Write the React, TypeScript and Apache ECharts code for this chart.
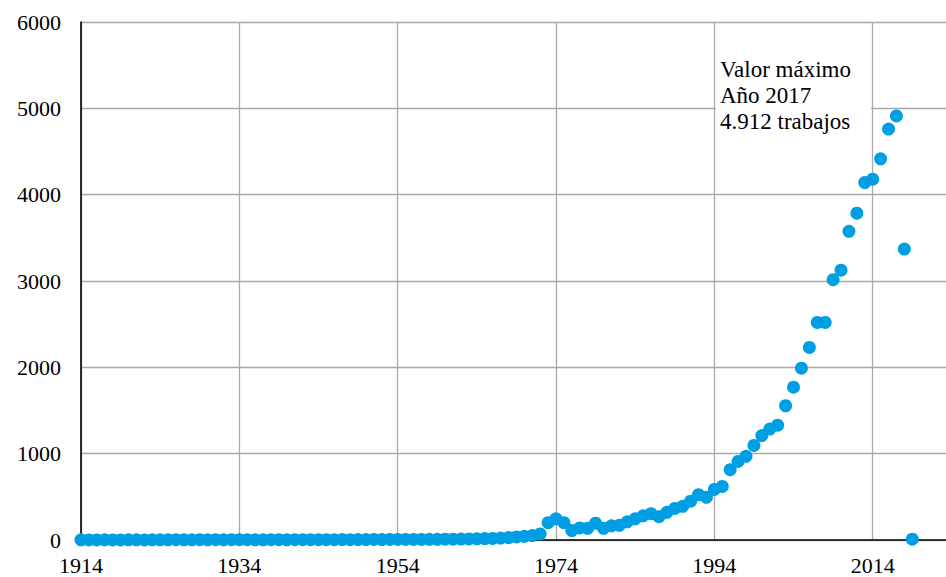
import React, { useEffect, useRef } from "react";
import * as echarts from "echarts";

const firstYear = 1914;
const values: number[] = [
  2, 1, 1, 2, 1, 1, 2, 2, 1, 2,
  2, 2, 3, 2, 2, 3, 2, 3, 2, 3,
  3, 3, 2, 2, 3, 3, 2, 3, 3, 4,
  3, 4, 4, 5, 4, 5, 5, 6, 5, 6,
  6, 7, 6, 7, 8, 8, 9, 10, 11, 12,
  14, 16, 18, 22, 28, 35, 42, 52, 70,
  200, 245, 200, 110, 140, 135, 195, 135, 165, 170,
  210, 245, 280, 305, 270, 320, 365, 390, 450, 525,
  495, 585, 620, 815, 910, 970, 1095, 1210, 1285, 1330,
  1555, 1770, 1990, 2230, 2520, 2520, 3015, 3125, 3575, 3785,
  4140, 4180, 4415, 4760, 4912, 3370, 10,
];
const years: number[] = values.map((_, i) => firstYear + i);
const annotationLines = ["Valor máximo", "Año 2017", "4.912 trabajos"];

const FONT = "Liberation Serif";

export default function App() {
  const ref = useRef<HTMLDivElement>(null);
  useEffect(() => {
    if (!ref.current) return;
    const chart = echarts.init(ref.current, undefined, { renderer: "svg" });
    chart.setOption({
      animation: false,
      backgroundColor: "#ffffff",
      textStyle: { fontFamily: FONT },
      grid: {
        left: 81,
        top: 22,
        width: 868,
        bottom: 37,
        containLabel: false,
        outerBoundsMode: "none",
      },
      xAxis: {
        type: "value",
        min: 1914,
        max: 2023.64,
        interval: 20,
        axisLine: { show: true, onZero: false, lineStyle: { color: "#000", width: 1.6 } },
        axisTick: { show: false },
        axisLabel: {
          color: "#000",
          fontSize: 22,
          fontFamily: FONT,
          margin: 14,
          showMaxLabel: false,
          formatter: (v: number) =>
            Math.abs(v - Math.round(v)) < 1e-6 && (Math.round(v) - 1914) % 20 === 0
              ? String(Math.round(v))
              : "",
        },
        splitLine: { show: true, lineStyle: { color: "#a9a9a9", width: 1.3 } },
      },
      yAxis: {
        type: "value",
        min: 0,
        max: 6000,
        interval: 1000,
        axisLine: { show: true, lineStyle: { color: "#000", width: 1.6 } },
        axisTick: { show: false },
        axisLabel: {
          color: "#000",
          fontSize: 22,
          fontFamily: FONT,
          margin: 20,
          formatter: (v: number) => String(v),
        },
        splitLine: { show: true, lineStyle: { color: "#a9a9a9", width: 1.3 } },
      },
      series: [
        {
          type: "scatter",
          symbol: "circle",
          symbolSize: 13,
          itemStyle: { color: "#009fe3", opacity: 1 },
          data: years.map((y, i) => [y, values[i]]),
        },
      ],
      graphic: [
        {
          type: "rect",
          left: 716,
          top: 52,
          shape: { width: 155, height: 88 },
          style: { fill: "#ffffff" },
          z: 10,
        },
        {
          type: "text",
          left: 720,
          top: 56,
          z: 11,
          style: {
            text: annotationLines.join("\n"),
            fontFamily: FONT,
            fontSize: 23,
            fill: "#000",
            lineHeight: 26,
          },
        },
      ],
    });
    return () => chart.dispose();
  }, []);
  return (
    <div
      ref={ref}
      style={{ position: "fixed", left: 0, top: 0, width: 946, height: 577 }}
    />
  );
}
